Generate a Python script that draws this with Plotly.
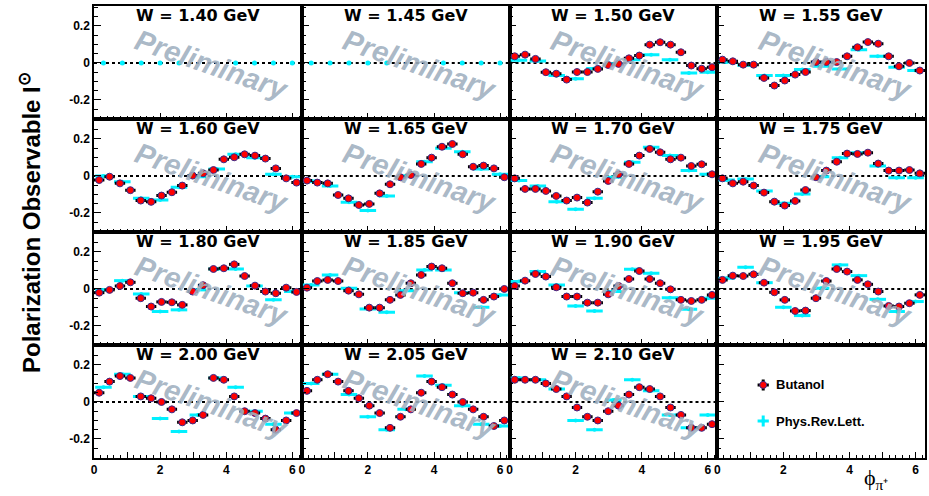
import plotly.graph_objects as go
from plotly.subplots import make_subplots

W_LABELS = ["1.40", "1.45", "1.50", "1.55", "1.60", "1.65", "1.70", "1.75",
            "1.80", "1.85", "1.90", "1.95", "2.00", "2.05", "2.10"]

# bin centres (rad)
PHI_BUT = [0.157, 0.471, 0.785, 1.100, 1.414, 1.728, 2.042, 2.356, 2.670, 2.985,
           3.299, 3.613, 3.927, 4.241, 4.555, 4.869, 5.184, 5.498, 5.812, 6.126]
PHI_PRL = [0.286, 0.857, 1.428, 1.999, 2.570, 3.142, 3.713, 4.284, 4.855, 5.426, 5.997]

BUT_ERR_X = 0.157
BUT_ERR_Y = 0.012
PRL_ERR_X = 0.25
PRL_ERR_Y = 0.004

BUTANOL = {
    "1.40": None,
    "1.45": None,
    "1.50": [0.036, 0.045, 0.022, -0.050, -0.058, -0.090, -0.049, -0.049, -0.032, -0.011,
             -0.005, 0.025, 0.040, 0.099, 0.112, 0.099, 0.058, -0.014, -0.031, -0.023],
    "1.55": [0.018, 0.009, -0.009, -0.009, -0.081, -0.122, -0.095, -0.063, -0.049, 0.005,
             0.005, 0.005, 0.036, 0.085, 0.113, 0.104, 0.036, -0.018, 0.000, -0.041],
    "1.60": [-0.022, -0.004, -0.040, -0.077, -0.133, -0.140, -0.106, -0.088, -0.052, 0.002,
             0.014, 0.032, 0.090, 0.101, 0.117, 0.110, 0.094, 0.041, -0.013, -0.036],
    "1.65": [-0.025, -0.036, -0.040, -0.103, -0.121, -0.157, -0.151, -0.094, -0.045, -0.007,
             0.005, 0.065, 0.099, 0.158, 0.173, 0.117, 0.050, 0.056, 0.041, -0.007],
    "1.70": [-0.013, -0.070, -0.070, -0.081, -0.108, -0.133, -0.117, -0.144, -0.085, -0.027,
             0.009, 0.065, 0.110, 0.146, 0.128, 0.090, 0.099, 0.054, 0.063, 0.009],
    "1.75": [-0.013, -0.040, -0.031, -0.052, -0.090, -0.139, -0.160, -0.135, -0.076, -0.007,
             0.029, 0.077, 0.121, 0.119, 0.126, 0.067, 0.029, 0.029, 0.032, 0.014],
    "1.80": [-0.020, -0.005, 0.016, 0.036, -0.050, -0.095, -0.070, -0.072, -0.086, -0.014,
             0.020, 0.108, 0.112, 0.133, 0.070, 0.018, -0.014, -0.023, 0.007, -0.016],
    "1.85": [0.007, 0.043, 0.049, 0.043, -0.009, -0.029, -0.101, -0.101, -0.059, -0.032,
             0.031, 0.076, 0.121, 0.112, 0.031, -0.023, -0.020, -0.059, -0.041, 0.000],
    "1.90": [0.016, 0.045, 0.081, 0.067, 0.009, -0.041, -0.041, -0.074, -0.074, -0.029,
             0.016, 0.054, 0.097, 0.054, 0.031, -0.002, -0.059, -0.065, -0.059, -0.032],
    "1.95": [0.049, 0.072, 0.070, 0.079, 0.034, -0.018, -0.059, -0.119, -0.117, -0.050,
             0.043, 0.108, 0.094, 0.049, 0.025, -0.014, -0.092, -0.095, -0.077, -0.032],
    "2.00": [0.050, 0.110, 0.140, 0.130, 0.030, 0.020, 0.000, -0.040, -0.110, -0.100,
             -0.070, 0.130, 0.120, 0.030, -0.050, -0.060, -0.090, -0.150, -0.100, -0.060],
    "2.05": [0.060, 0.120, 0.150, 0.110, 0.060, 0.020, -0.020, -0.060, -0.140, -0.080,
             -0.040, 0.050, 0.110, 0.080, 0.040, 0.000, -0.040, -0.080, -0.130, -0.100],
    "2.10": [0.120, 0.120, 0.120, 0.100, 0.070, 0.030, -0.030, -0.080, -0.100, -0.050,
             -0.020, 0.040, 0.080, 0.070, 0.030, -0.030, -0.070, -0.140, -0.140, -0.120],
}

PRL = {
    "1.40": [0.0, 0.0, 0.0, 0.0, 0.0, None, None, 0.0, 0.0, 0.0, 0.0],
    "1.45": [0.0, 0.0, 0.0, 0.0, 0.0, None, None, 0.0, 0.0, 0.0, 0.0],
    "1.50": [0.014, 0.010, -0.068, -0.085, -0.030, -0.005, 0.018, 0.045, 0.018, -0.054, -0.050],
    "1.55": [0.005, -0.013, -0.068, -0.068, -0.036, -0.018, -0.032, 0.072, 0.036, -0.023, -0.041],
    "1.60": [0.000, -0.031, -0.120, -0.130, -0.061, -0.004, 0.038, 0.117, 0.099, 0.009, -0.004],
    "1.65": [-0.027, -0.054, -0.142, -0.187, -0.108, 0.000, 0.077, 0.150, 0.131, 0.038, 0.009],
    "1.70": [-0.025, -0.054, -0.139, -0.180, -0.121, -0.007, 0.074, 0.155, 0.110, 0.029, 0.009],
    "1.75": [-0.022, -0.016, -0.081, -0.148, -0.097, -0.004, 0.099, 0.126, 0.054, -0.009, -0.009],
    "1.80": [-0.005, 0.045, -0.027, -0.122, -0.113, -0.005, 0.108, 0.108, 0.016, -0.059, -0.014],
    "1.85": [0.022, 0.076, 0.004, -0.108, -0.126, -0.009, 0.103, 0.103, -0.020, -0.099, -0.032],
    "1.90": [0.040, 0.094, 0.022, -0.092, -0.119, -0.014, 0.106, 0.085, -0.047, -0.110, -0.050],
    "1.95": [0.058, 0.117, 0.034, -0.099, -0.144, 0.004, 0.130, 0.072, -0.056, -0.122, -0.068],
    "2.00": [0.080, 0.150, 0.030, -0.090, -0.160, -0.070, 0.130, 0.080, -0.050, -0.120, -0.060],
    "2.05": [0.100, 0.150, 0.040, -0.080, -0.150, -0.040, 0.140, 0.090, -0.020, -0.120, -0.130],
    "2.10": [0.130, 0.120, 0.070, -0.100, -0.150, 0.010, 0.120, 0.060, -0.070, -0.140, -0.070],
}
NO_ERRORS = {"1.40", "1.45"}

X_TICKS = [0, 1, 2, 3, 4, 5, 6]
X_TICKTEXT = ["0", "", "2", "", "4", "", "6"]
Y_TICKS = [-0.2, 0, 0.2]
Y_TICKTEXT = ["-0.2", "0", "0.2"]

RED = "#ff0000"
CYAN = "#00f0ff"
FONT = "Liberation Sans"
WM_COLOR = "rgba(160,176,192,0.9)"

fig = make_subplots(rows=4, cols=4, horizontal_spacing=0, vertical_spacing=0)

for k, w in enumerate(W_LABELS):
    r, c = k // 4 + 1, k % 4 + 1
    prl = PRL[w]
    if prl is not None:
        ex = 0 if w in NO_ERRORS else PRL_ERR_X
        ey = 0 if w in NO_ERRORS else PRL_ERR_Y
        fig.add_trace(go.Scatter(
            x=PHI_PRL, y=prl, mode="markers",
            marker=dict(color=CYAN, size=5 if w in NO_ERRORS else 4),
            error_x=dict(type="constant", value=ex, color=CYAN, thickness=3, width=0, visible=ex > 0),
            error_y=dict(type="constant", value=ey, color=CYAN, thickness=3, width=0, visible=ey > 0),
            showlegend=False, cliponaxis=False), row=r, col=c)
    but = BUTANOL[w]
    if but is not None:
        fig.add_trace(go.Scatter(
            x=PHI_BUT, y=but, mode="markers",
            marker=dict(color=RED, size=7, line=dict(color="#3a2a8a", width=1)),
            error_x=dict(type="constant", value=BUT_ERR_X, color="black", thickness=3, width=0),
            error_y=dict(type="constant", value=BUT_ERR_Y, color="black", thickness=3, width=0),
            showlegend=False, cliponaxis=False), row=r, col=c)
    fig.add_hline(y=0, line=dict(color="black", width=2, dash="dot"), layer="below", row=r, col=c)
    idx = "" if k == 0 else str(k + 1)
    fig.add_annotation(text="<b>W = %s GeV</b>" % w, xref="x%s domain" % idx, yref="y%s domain" % idx,
                       x=0.5, y=1.0, yshift=2, xanchor="center", yanchor="top", showarrow=False,
                       font=dict(family="DejaVu Sans", size=16, color="black"))
    fig.add_annotation(text="<b><i>Preliminary</i></b>", xref="x%s domain" % idx, yref="y%s domain" % idx,
                       x=0.57, y=0.48, xanchor="center", yanchor="middle", showarrow=False, textangle=19,
                       font=dict(family=FONT, size=29, color=WM_COLOR))

# legend glyphs in the empty panel
fig.add_trace(go.Scatter(x=[1.39], y=[0.092], mode="markers",
                         marker=dict(color=RED, size=7, line=dict(color="#3a2a8a", width=1)),
                         error_x=dict(type="constant", value=0.17, color="black", thickness=3, width=0),
                         error_y=dict(type="constant", value=0.03, color="black", thickness=3, width=0),
                         showlegend=False), row=4, col=4)
fig.add_trace(go.Scatter(x=[1.39], y=[-0.103], mode="markers",
                         marker=dict(color=CYAN, size=4),
                         error_x=dict(type="constant", value=0.17, color=CYAN, thickness=3, width=0),
                         error_y=dict(type="constant", value=0.03, color=CYAN, thickness=3, width=0),
                         showlegend=False), row=4, col=4)
fig.add_annotation(text="<b>Butanol</b>", xref="x16", yref="y16", x=1.72, y=0.092,
                   xanchor="left", yanchor="middle", showarrow=False,
                   font=dict(family=FONT, size=13, color="black"))
fig.add_annotation(text="<b>Phys.Rev.Lett.</b>", xref="x16", yref="y16", x=1.72, y=-0.103,
                   xanchor="left", yanchor="middle", showarrow=False,
                   font=dict(family=FONT, size=13, color="black"))

for k in range(16):
    r, c = k // 4 + 1, k % 4 + 1
    fig.update_xaxes(range=[0, 6.2832], showline=True, mirror=True, linecolor="black", linewidth=1.5,
                     showgrid=False, zeroline=False, ticks="inside", ticklen=6, tickcolor="black",
                     tickvals=X_TICKS, ticktext=X_TICKTEXT, showticklabels=(r == 4),
                     tickfont=dict(family=FONT, size=12, color="black", weight="bold"),
                     minor=dict(ticks="inside", ticklen=3, dtick=0.2, tickcolor="black", showgrid=False),
                     row=r, col=c)
    fig.update_yaxes(range=[-0.303, 0.308], showline=True, mirror=True, linecolor="black", linewidth=1.5,
                     showgrid=False, zeroline=False, ticks="inside", ticklen=7, tickcolor="black",
                     tickvals=Y_TICKS, ticktext=Y_TICKTEXT, showticklabels=(c == 1),
                     tickfont=dict(family=FONT, size=12, color="black", weight="bold"),
                     minor=dict(ticks="inside", ticklen=4, dtick=0.05, tickcolor="black", showgrid=False),
                     row=r, col=c)

fig.add_annotation(text="<b>Polarization Observable I<sup>⊙</sup></b>", xref="paper", yref="paper",
                   x=-0.077, y=0.52, xanchor="center", yanchor="middle", textangle=-90, showarrow=False,
                   font=dict(family=FONT, size=24, color="black"))
fig.add_annotation(text="ϕ<sub>π⁺</sub>", xref="paper", yref="paper",
                   x=0.958, y=0.0, xanchor="right", yanchor="middle", yshift=-21, showarrow=False,
                   font=dict(family="Liberation Serif", size=22, color="black"))

fig.update_layout(width=929, height=496, margin=dict(l=94, r=2, t=6, b=38),
                  plot_bgcolor="white", paper_bgcolor="white", showlegend=False)
fig.write_html("out.html")
